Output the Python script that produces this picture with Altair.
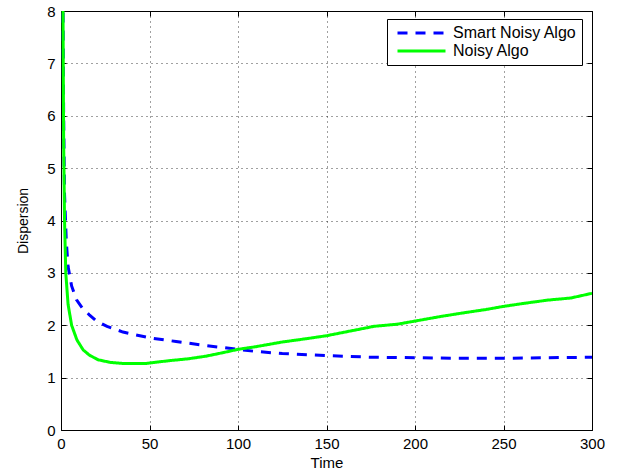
import altair as alt
import pandas as pd

# Data
smart_t = [1, 1.5, 2, 3, 4, 6, 8.7, 12, 16, 20, 26, 35, 50, 65, 80, 95, 110, 125, 150, 175, 200, 225, 250, 275, 300]
smart_v = [9.0, 6.0, 4.5, 3.6, 3.12, 2.75, 2.49, 2.33, 2.2, 2.08, 1.98, 1.87, 1.76, 1.69, 1.62, 1.56, 1.50, 1.46, 1.42, 1.39, 1.38, 1.37, 1.37, 1.38, 1.39]

noisy_t = [1, 1.5, 2, 2.7, 4, 6, 9, 12.5, 16, 21, 28, 35, 42, 48, 55, 63, 72, 82, 92, 100, 110, 125, 140, 150, 165, 177, 190, 200, 215, 228, 240, 250, 262, 275, 288, 300]
noisy_v = [9.0, 5.5, 4.0, 3.0, 2.4, 2.0, 1.72, 1.53, 1.43, 1.34, 1.29, 1.27, 1.27, 1.27, 1.30, 1.33, 1.36, 1.41, 1.48, 1.54, 1.59, 1.68, 1.75, 1.80, 1.90, 1.98, 2.02, 2.08, 2.17, 2.24, 2.30, 2.36, 2.42, 2.48, 2.52, 2.61]

series_names = ["Smart Noisy Algo", "Noisy Algo"]
series_colors = ["#0000ff", "#00ff00"]
series_dash = [[10, 8], [1, 0]]

x_ticks = [0, 50, 100, 150, 200, 250, 300]
y_ticks = [0, 1, 2, 3, 4, 5, 6, 7, 8]

df = pd.concat([
    pd.DataFrame({"Time": smart_t, "Dispersion": smart_v, "series": series_names[0]}),
    pd.DataFrame({"Time": noisy_t, "Dispersion": noisy_v, "series": series_names[1]}),
], ignore_index=True)

FONT = "Liberation Sans"

xscale = alt.Scale(domain=[0, 300], nice=False, zero=False)
yscale = alt.Scale(domain=[0, 8], nice=False, zero=False)

color = alt.Color("series:N", scale=alt.Scale(domain=series_names, range=series_colors),
                  legend=alt.Legend(title=None))
dash = alt.StrokeDash("series:N", scale=alt.Scale(domain=series_names, range=series_dash),
                      legend=alt.Legend(title=None))

main_x_axis = alt.Axis(values=x_ticks, title="Time", grid=True, gridDash=[1, 4], gridColor="#000000",
                       gridOpacity=0.75, tickSize=0, domain=False, labelFont=FONT, labelFontSize=15,
                       labelColor="#000000", labelPadding=6, titleFont=FONT, titleFontSize=15,
                       titleFontWeight="normal", titleColor="#000000", titlePadding=4, labelFlush=False)
main_y_axis = alt.Axis(values=y_ticks, title="Dispersion", grid=True, gridDash=[1, 4], gridColor="#000000",
                       gridOpacity=0.75, tickSize=0, domain=False, labelFont=FONT, labelFontSize=15,
                       labelColor="#000000", labelPadding=6, titleFont=FONT, titleFontSize=14,
                       titleFontWeight="normal", titleColor="#000000", titlePadding=16, labelFlush=False)

base = alt.Chart(df)

blue = base.transform_filter(alt.datum.series == series_names[0]).mark_line(strokeWidth=3, clip=True).encode(
    x=alt.X("Time:Q", scale=xscale, axis=main_x_axis),
    y=alt.Y("Dispersion:Q", scale=yscale, axis=main_y_axis),
    color=color, strokeDash=dash,
)

green = base.transform_filter(alt.datum.series == series_names[1]).mark_line(strokeWidth=3, clip=True).encode(
    x=alt.X("Time:Q", scale=xscale, axis=None),
    y=alt.Y("Dispersion:Q", scale=yscale, axis=None),
    color=color, strokeDash=dash,
)

def tick_axis(orient, values):
    return alt.Axis(orient=orient, values=values, offset=-5, tickSize=5, tickColor="#000000",
                    labels=False, domain=False, grid=False, title=None)

ticks_bl = base.mark_line(opacity=0).encode(
    x=alt.X("Time:Q", scale=xscale, axis=tick_axis("bottom", x_ticks)),
    y=alt.Y("Dispersion:Q", scale=yscale, axis=tick_axis("left", y_ticks)),
)
ticks_tr = base.mark_line(opacity=0).encode(
    x=alt.X("Time:Q", scale=xscale, axis=tick_axis("top", x_ticks)),
    y=alt.Y("Dispersion:Q", scale=yscale, axis=tick_axis("right", y_ticks)),
)

chart = alt.layer(blue, green, ticks_bl, ticks_tr).resolve_axis(
    x="independent", y="independent"
).properties(
    width=531, height=419,
    padding={"left": 61, "top": 11, "right": 33, "bottom": 41},
    autosize=alt.AutoSizeParams(type="none"),
    background="white",
).configure_view(
    stroke="#000000", strokeWidth=1
).configure_legend(
    orient="none", legendX=326, legendY=8,
    strokeColor="#000000", fillColor="#ffffff", padding=5,
    labelFont=FONT, labelFontSize=16, labelColor="#000000", labelOffset=6,
    symbolType="stroke", symbolSize=2304, symbolStrokeWidth=3, symbolOffset=4,
    clipHeight=18, rowPadding=0, cornerRadius=0,
)

chart.save("out.html", embed_options={"renderer": "svg", "actions": False})
